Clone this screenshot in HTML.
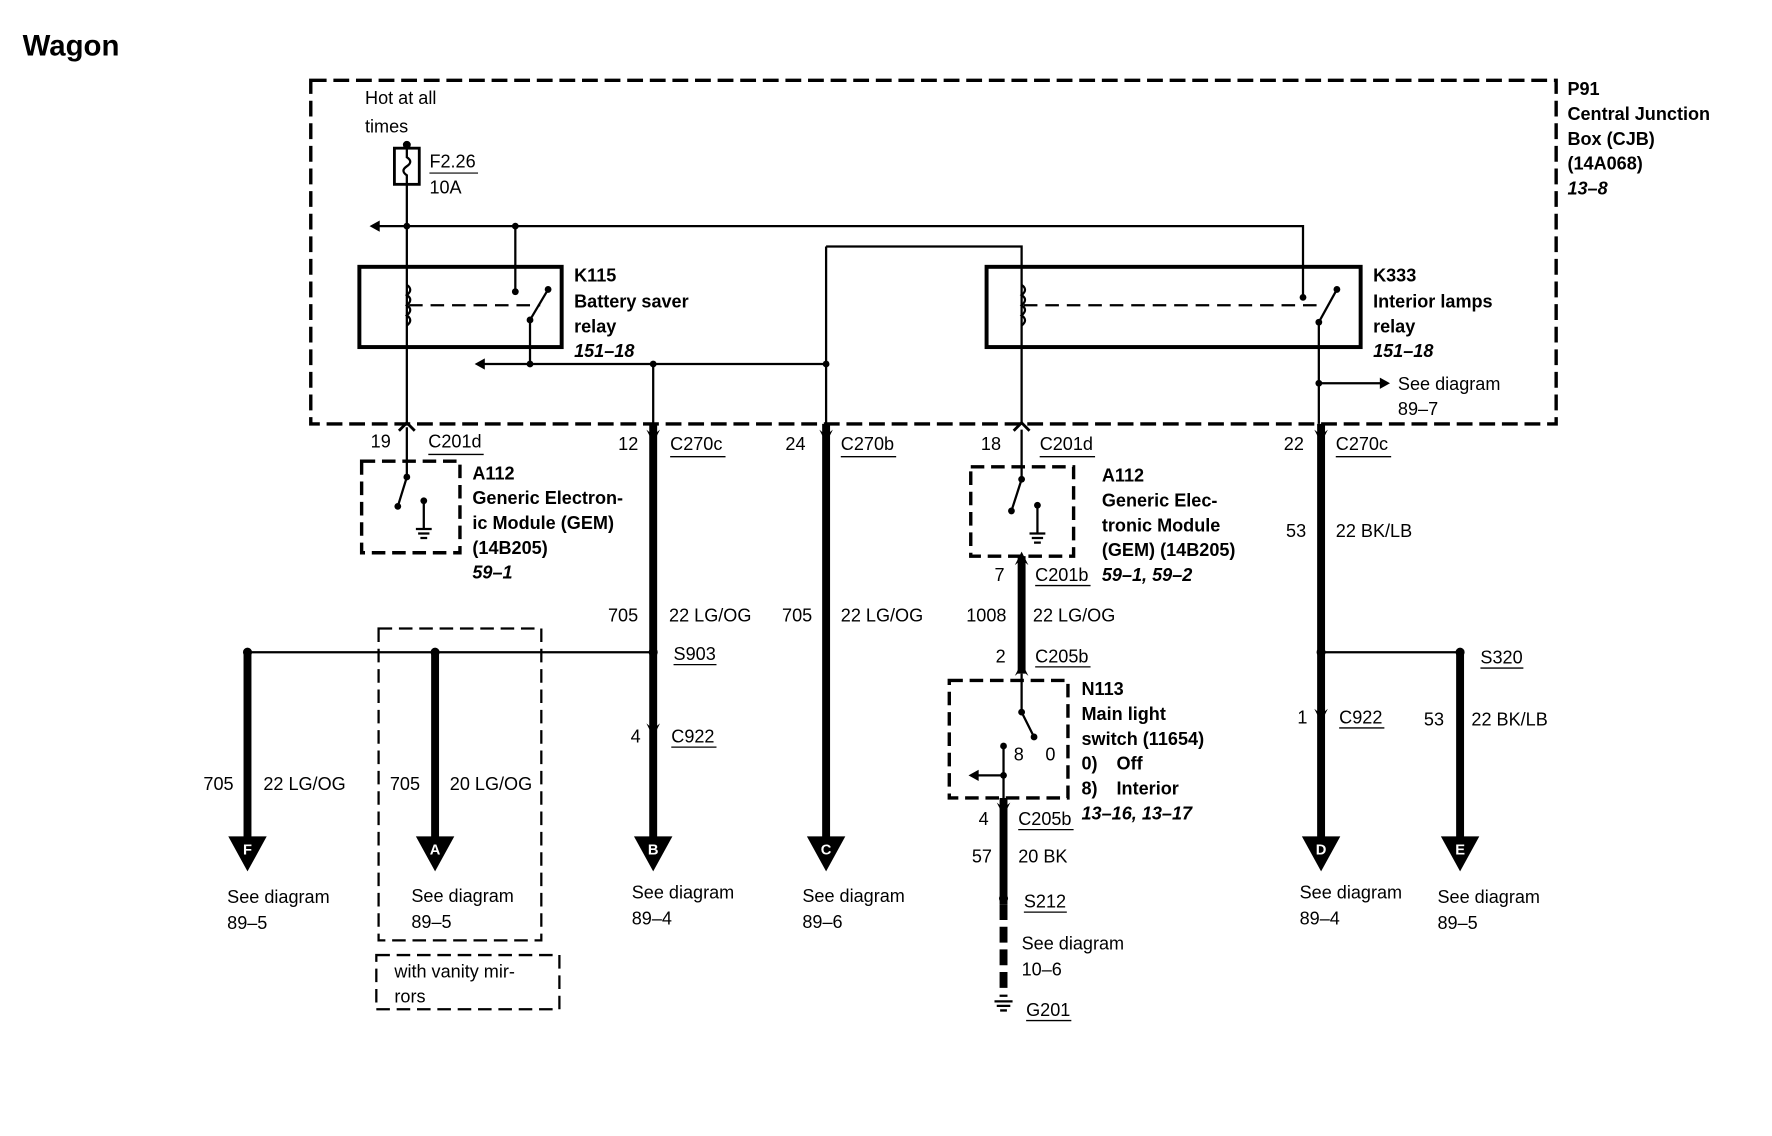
<!DOCTYPE html>
<html><head><meta charset="utf-8"><style>
html,body{margin:0;padding:0;background:#fff;}
svg{display:block;}
text{font-family:"Liberation Sans",sans-serif;font-size:16px;fill:#000;}
.b{font-weight:bold;}
.i{font-weight:bold;font-style:italic;}
.w{fill:#fff;font-weight:bold;font-size:13px;}
</style></head><body>
<svg width="1772" height="1136" viewBox="0 0 1568 1005" xmlns="http://www.w3.org/2000/svg">
<g fill="none" stroke="#000">
<rect x="275" y="71" width="1102" height="304" stroke-width="3" stroke-dasharray="14,6"/>
<rect x="335" y="556" width="144" height="276" stroke-width="2" stroke-dasharray="12,6"/>
<rect x="333" y="845" width="162" height="48" stroke-width="2" stroke-dasharray="12,6"/>
<rect x="320" y="408" width="87" height="81" stroke-width="3" stroke-dasharray="12,6"/>
<rect x="859" y="413" width="91" height="79" stroke-width="3" stroke-dasharray="12,6"/>
<rect x="840" y="602" width="105" height="104" stroke-width="3" stroke-dasharray="12,6"/>
<rect x="318" y="236" width="179" height="71" stroke-width="3.5"/>
<rect x="873" y="236" width="331" height="71" stroke-width="3.5"/>
<rect x="349" y="131" width="22" height="32" stroke-width="2.5"/>
<path d="M360 131 v8 q6 4 0 8 q-6 4 0 8 v8" stroke-width="2"/>
<g stroke-width="2">
<path d="M360 128 V131 M360 163 V375"/>
<path d="M334 200 H1153 V263"/>
<path d="M456 200 V258"/>
<path d="M427 322 H731"/>
<path d="M469 283 V322"/>
<path d="M469 283 L485 256"/>
<path d="M578 322 V375"/>
<path d="M731 218 H904 V375"/>
<path d="M731 218 V375"/>
<path d="M1167 285 L1183 256"/>
<path d="M1167 285 V375"/>
<path d="M1167 339 H1222"/>
<path d="M362 270 H478" stroke-dasharray="12,7"/>
<path d="M906 270 H1172" stroke-dasharray="12,7"/>
<path d="M360 252 q6 4 0 9 q6 4 0 9 q6 4 0 9 q6 4 0 9" stroke-width="2"/>
<path d="M904 252 q6 4 0 9 q6 4 0 9 q6 4 0 9 q6 4 0 9" stroke-width="2"/>
<path d="M360 378 V422 L352 448"/>
<path d="M375 443 V468 M368 468 H382 M370 472 H380 M372 476 H378"/>
<path d="M904 380 V424 L895 452"/>
<path d="M918 447 V472 M911 472 H925 M913 476 H923 M915 480 H921"/>
<path d="M904 596 V630 L915 652"/>
<path d="M888 660 V706 M888 686 H862"/>
<path d="M219 577 H578"/>
<path d="M1169 577 H1292"/>
</g>
<g stroke-width="7">
<path d="M578 375 V745"/>
<path d="M731 375 V745"/>
<path d="M1169 375 V745"/>
<path d="M1292 577 V745"/>
<path d="M219 577 V745"/>
<path d="M385 577 V745"/>
<path d="M904 492 V596"/>
<path d="M888 706 V800"/>
<path d="M888 800 V882" stroke-dasharray="14,6"/>
</g>
<path d="M880 886 H896 M882 890 H894 M885 894 H891" stroke-width="2"/>
<path d="M353 381 L360 374 L367 381" stroke-width="2.5"/>
<path d="M897 381 L904 374 L911 381" stroke-width="2.5"/>
</g>
<g fill="#000" stroke="none">
<circle cx="360" cy="128" r="3.5"/><circle cx="360" cy="200" r="3"/><circle cx="456" cy="200" r="3"/>
<circle cx="456" cy="258" r="3"/><circle cx="469" cy="283" r="3"/><circle cx="485" cy="256" r="3"/>
<circle cx="469" cy="322" r="3"/><circle cx="578" cy="322" r="3"/><circle cx="731" cy="322" r="3"/>
<circle cx="1153" cy="263" r="3"/><circle cx="1167" cy="285" r="3"/><circle cx="1183" cy="256" r="3"/><circle cx="1167" cy="339" r="3"/>
<circle cx="219" cy="577" r="4"/><circle cx="385" cy="577" r="4"/><circle cx="578" cy="577" r="4"/>
<circle cx="1169" cy="577" r="4"/><circle cx="1292" cy="577" r="4"/><circle cx="888" cy="795" r="4"/>
<circle cx="352" cy="448" r="3"/><circle cx="360" cy="422" r="3"/><circle cx="375" cy="443" r="3"/>
<circle cx="895" cy="452" r="3"/><circle cx="904" cy="424" r="3"/><circle cx="918" cy="447" r="3"/>
<circle cx="904" cy="630" r="3"/><circle cx="915" cy="652" r="3"/><circle cx="888" cy="660" r="3"/><circle cx="888" cy="686" r="3"/>
<path d="M327 200 L336 195 L336 205 Z"/>
<path d="M420 322 L429 317 L429 327 Z"/>
<path d="M1230 339 L1221 334 L1221 344 Z"/>
<path d="M857 686 L866 681 L866 691 Z"/>
<path d="M572 380 L578 392 L584 380 L578 385 Z"/>
<path d="M725 380 L731 392 L737 380 L731 385 Z"/>
<path d="M1163 380 L1169 392 L1175 380 L1169 385 Z"/>
<path d="M572 640 L578 652 L584 640 L578 645 Z"/>
<path d="M1163 627 L1169 639 L1175 627 L1169 632 Z"/>
<path d="M882 710 L888 722 L894 710 L888 715 Z"/>
<path d="M898 500 L904 488 L910 500 L904 495 Z"/>
<path d="M898 598 L904 586 L910 598 L904 593 Z"/>
<path d="M202 740 H236 L219 771 Z"/>
<path d="M368 740 H402 L385 771 Z"/>
<path d="M561 740 H595 L578 771 Z"/>
<path d="M714 740 H748 L731 771 Z"/>
<path d="M1152 740 H1186 L1169 771 Z"/>
<path d="M1275 740 H1309 L1292 771 Z"/>
</g>
<text class="w" x="219" y="756" text-anchor="middle">F</text>
<text class="w" x="385" y="756" text-anchor="middle">A</text>
<text class="w" x="578" y="756" text-anchor="middle">B</text>
<text class="w" x="731" y="756" text-anchor="middle">C</text>
<text class="w" x="1169" y="756" text-anchor="middle">D</text>
<text class="w" x="1292" y="756" text-anchor="middle">E</text>

<text class="b" x="20" y="49" style="font-size:26px">Wagon</text>
<text x="323" y="92">Hot at all</text><text x="323" y="117">times</text>
<text x="380" y="148">F2.26</text><line x1="380" y1="153" x2="423" y2="153" stroke="#000"/>
<text x="380" y="171">10A</text>
<text x="1387" y="84" class="b">P91</text><text x="1387" y="106" class="b">Central Junction</text>
<text x="1387" y="128" class="b">Box (CJB)</text><text x="1387" y="150" class="b">(14A068)</text>
<text class="i" x="1387" y="172">13–8</text>
<text class="b" x="508" y="249">K115</text><text class="b" x="508" y="272">Battery saver</text><text class="b" x="508" y="294">relay</text><text class="i" x="508" y="316">151–18</text>
<text class="b" x="1215" y="249">K333</text><text class="b" x="1215" y="272">Interior lamps</text><text class="b" x="1215" y="294">relay</text><text class="i" x="1215" y="316">151–18</text>
<text x="1237" y="345">See diagram</text><text x="1237" y="367">89–7</text>

<text x="328" y="396">19</text><text x="379" y="396">C201d</text>
<text x="547" y="398">12</text><text x="593" y="398">C270c</text>
<text x="695" y="398">24</text><text x="744" y="398">C270b</text>
<text x="868" y="398">18</text><text x="920" y="398">C201d</text>
<text x="1136" y="398">22</text><text x="1182" y="398">C270c</text>
<g stroke="#000" stroke-width="1.2">
<line x1="379" y1="402" x2="428" y2="402"/><line x1="593" y1="404" x2="642" y2="404"/>
<line x1="744" y1="404" x2="793" y2="404"/><line x1="920" y1="404" x2="969" y2="404"/>
<line x1="1182" y1="404" x2="1231" y2="404"/><line x1="916" y1="518" x2="965" y2="518"/>
<line x1="916" y1="590" x2="965" y2="590"/><line x1="901" y1="734" x2="950" y2="734"/>
<line x1="596" y1="588" x2="634" y2="588"/><line x1="594" y1="661" x2="634" y2="661"/>
<line x1="1310" y1="591" x2="1348" y2="591"/><line x1="1185" y1="644" x2="1225" y2="644"/>
<line x1="906" y1="807" x2="944" y2="807"/><line x1="908" y1="903" x2="948" y2="903"/>
</g>
<text class="b" x="418" y="424">A112</text><text class="b" x="418" y="446">Generic Electron-</text><text class="b" x="418" y="468">ic Module (GEM)</text><text class="b" x="418" y="490">(14B205)</text><text class="i" x="418" y="512">59–1</text>
<text class="b" x="975" y="426">A112</text><text class="b" x="975" y="448">Generic Elec-</text><text class="b" x="975" y="470">tronic Module</text><text class="b" x="975" y="492">(GEM) (14B205)</text><text class="i" x="975" y="514">59–1, 59–2</text>
<text x="880" y="514">7</text><text x="916" y="514">C201b</text>
<text x="538" y="550">705</text><text x="592" y="550">22 LG/OG</text>
<text x="692" y="550">705</text><text x="744" y="550">22 LG/OG</text>
<text x="855" y="550">1008</text><text x="914" y="550">22 LG/OG</text>
<text x="1138" y="475">53</text><text x="1182" y="475">22 BK/LB</text>
<text x="881" y="586">2</text><text x="916" y="586">C205b</text>
<text x="596" y="584">S903</text><text x="1310" y="587">S320</text>
<text class="b" x="957" y="615">N113</text><text class="b" x="957" y="637">Main light</text><text class="b" x="957" y="659">switch (11654)</text>
<text class="b" x="957" y="681">0)</text><text class="b" x="988" y="681">Off</text>
<text class="b" x="957" y="703">8)</text><text class="b" x="988" y="703">Interior</text>
<text class="i" x="957" y="725">13–16, 13–17</text>
<text x="897" y="673">8</text><text x="925" y="673">0</text>
<text x="558" y="657">4</text><text x="594" y="657">C922</text>
<text x="1148" y="640">1</text><text x="1185" y="640">C922</text>
<text x="1260" y="642">53</text><text x="1302" y="642">22 BK/LB</text>
<text x="180" y="699">705</text><text x="233" y="699">22 LG/OG</text>
<text x="345" y="699">705</text><text x="398" y="699">20 LG/OG</text>
<text x="866" y="730">4</text><text x="901" y="730">C205b</text>
<text x="860" y="763">57</text><text x="901" y="763">20 BK</text>
<text x="906" y="803">S212</text>
<text x="904" y="840">See diagram</text><text x="904" y="863">10–6</text>
<text x="908" y="899">G201</text>
<text x="201" y="799">See diagram</text><text x="201" y="822">89–5</text>
<text x="364" y="798">See diagram</text><text x="364" y="821">89–5</text>
<text x="559" y="795">See diagram</text><text x="559" y="818">89–4</text>
<text x="710" y="798">See diagram</text><text x="710" y="821">89–6</text>
<text x="1150" y="795">See diagram</text><text x="1150" y="818">89–4</text>
<text x="1272" y="799">See diagram</text><text x="1272" y="822">89–5</text>
<text x="349" y="865">with vanity mir-</text><text x="349" y="887">rors</text>
</svg>
</body></html>
